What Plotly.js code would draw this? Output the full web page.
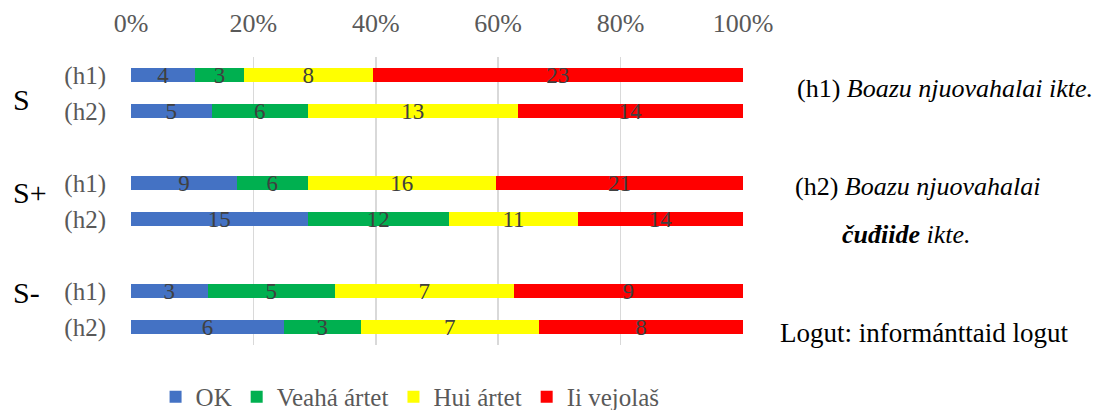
<!DOCTYPE html>
<html>
<head>
<meta charset="utf-8">
<script src="https://cdn.plot.ly/plotly-3.0.1.min.js"></script>
<style>
  body { margin: 0; background: #fff; }
  #plot { width: 1102px; height: 410px; }
</style>
</head>
<body>
<div id="plot"></div>
<script>
// row ids (top to bottom); blank rows keep a gap between the groups
var rows = ['S_h1', 'S_h2', 'gap1', 'Sp_h1', 'Sp_h2', 'gap2', 'Sm_h1', 'Sm_h2'];
var barRows = ['S_h1', 'S_h2', 'Sp_h1', 'Sp_h2', 'Sm_h1', 'Sm_h2'];
var rowLabels = ['(h1)', '(h2)', '(h1)', '(h2)', '(h1)', '(h2)'];
var groups = ['S', 'S+', 'S-'];

var ok       = [4, 5, 9, 15, 3, 6];
var veaha    = [3, 6, 6, 12, 5, 3];
var hui      = [8, 13, 16, 11, 7, 7];
var iiVejola = [23, 14, 21, 14, 9, 8];

var seriesNames = ['OK', 'Veahá ártet', 'Hui ártet', 'Ii vejolaš'];
var colors = ['#4472c4', '#00b050', '#ffff00', '#ff0000'];
var values = [ok, veaha, hui, iiVejola];

var serif = 'Liberation Serif, Times New Roman, serif';

var data = values.map(function (v, i) {
  return {
    type: 'bar',
    orientation: 'h',
    y: barRows,
    x: v,
    name: seriesNames[i],
    marker: {color: colors[i], line: {width: 0}},
    text: v.map(String),
    textposition: 'inside',
    insidetextanchor: 'middle',
    textangle: 0,
    constraintext: 'none',
    textfont: {family: serif, size: 23, color: '#404040'},
    hoverinfo: 'skip'
  };
});

// group labels S, S+, S- on the far left
var groupY = [0.851, 0.528, 0.181];
var groupAnn = groups.map(function (g, i) {
  return {
    text: g, xref: 'paper', yref: 'paper',
    x: -0.196, xanchor: 'left',
    y: groupY[i], yanchor: 'middle',
    showarrow: false,
    font: {family: serif, size: 30, color: '#000'}
  };
});

var notes = [
  {text: '(h1) <i>Boazu njuovahalai ikte.</i>', x: 1.085, y: 0.889, size: 26},
  {text: '(h2) <i>Boazu njuovahalai</i>', x: 1.082, y: 0.552, size: 26},
  {text: '<b><i>čuđiide</i></b><i> ikte.</i>', x: 1.158, y: 0.385, size: 26},
  {text: 'Logut: informánttaid logut', x: 1.057, y: 0.042, size: 27}
].map(function (n) {
  return {
    text: n.text, xref: 'paper', yref: 'paper',
    x: n.x, xanchor: 'left', y: n.y, yanchor: 'middle',
    showarrow: false, font: {family: serif, size: n.size, color: '#000'}
  };
});

var layout = {
  width: 1102,
  height: 410,
  margin: {l: 131, r: 359, t: 57, b: 65},
  barmode: 'stack',
  barnorm: 'percent',
  bargap: 0.61,
  paper_bgcolor: '#fff',
  plot_bgcolor: '#fff',
  xaxis: {
    side: 'top',
    range: [0, 100],
    tickvals: [0, 20, 40, 60, 80, 100],
    ticktext: ['0%', '20%', '40%', '60%', '80%', '100%'],
    tickfont: {family: serif, size: 26, color: '#595959'},
    ticklabelstandoff: 19,
    showgrid: true,
    gridcolor: '#d9d9d9',
    gridwidth: 1.5,
    zeroline: false,
    showline: false,
    ticks: '',
    ticklen: 0
  },
  yaxis: {
    type: 'category',
    categoryorder: 'array',
    categoryarray: rows,
    range: [7.5, -0.5],
    tickvals: barRows,
    ticktext: rowLabels,
    tickfont: {family: serif, size: 25, color: '#595959'},
    ticklabelstandoff: 24,
    ticks: '',
    ticklen: 0,
    showgrid: false,
    zeroline: false,
    showline: false
  },
  showlegend: true,
  legend: {
    orientation: 'h',
    xref: 'paper', x: 0.456, xanchor: 'center',
    yref: 'container', y: 0.032, yanchor: 'middle',
    font: {family: serif, size: 25, color: '#595959'},
    traceorder: 'normal'
  },
  annotations: groupAnn.concat(notes)
};

Plotly.newPlot('plot', data, layout, {displayModeBar: false, staticPlot: true});
</script>
</body>
</html>
